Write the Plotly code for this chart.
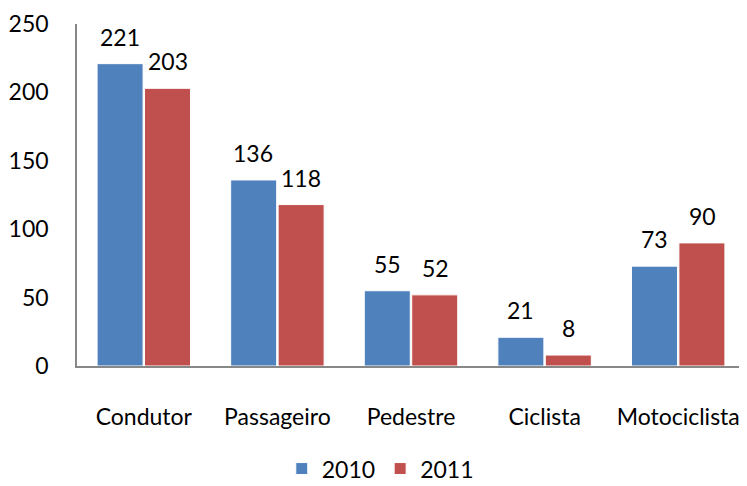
import plotly.graph_objects as go

categories = ["Condutor", "Passageiro", "Pedestre", "Ciclista", "Motociclista"]
values_2010 = [221, 136, 55, 21, 73]
values_2011 = [203, 118, 52, 8, 90]
series_names = ["2010", "2011"]
y_ticks = [0, 50, 100, 150, 200, 250]

FONT = "Lato"
FS = 23
BLUE = "#4F81BD"
RED = "#C0504D"

fig = go.Figure()
for name, vals, col in [(series_names[0], values_2010, BLUE), (series_names[1], values_2011, RED)]:
    fig.add_trace(go.Bar(
        x=categories, y=vals, name=name,
        marker=dict(color=col, line=dict(color="white", width=1)),
    ))

annotations = []
for vals, shift in [(values_2010, -24), (values_2011, 24)]:
    for c, v in zip(categories, vals):
        annotations.append(dict(
            x=c, y=v, xref="x", yref="y", text=str(v), showarrow=False,
            xshift=shift, yshift=27, font=dict(family=FONT, size=FS, color="black"),
        ))

# page has an 8px body margin, so the figure is sized to fit inside the window
fig.update_layout(
    width=739, height=478,
    margin=dict(l=69, r=2, t=16, b=120, autoexpand=False),
    paper_bgcolor="white", plot_bgcolor="white",
    barmode="group", bargap=0.29, bargroupgap=0.03,
    font=dict(family=FONT, size=FS, color="black"),
    showlegend=True,
    legend=dict(orientation="h", x=0.454, xanchor="center", y=-0.300, yanchor="middle",
                font=dict(family=FONT, size=FS), itemwidth=30, tracegroupgap=0),
    annotations=annotations,
    xaxis=dict(showline=True, linecolor="#888888", linewidth=1.5, showgrid=False, automargin=False,
               ticks="", ticklabelstandoff=30, tickfont=dict(family=FONT, size=FS)),
    yaxis=dict(range=[0, 250], tickvals=y_ticks, showline=True, linecolor="#888888", linewidth=1.5,
               showgrid=False, zeroline=False, ticks="", ticklabelstandoff=22, automargin=False,
               tickfont=dict(family=FONT, size=FS)),
)

fig.write_html("out.html")
